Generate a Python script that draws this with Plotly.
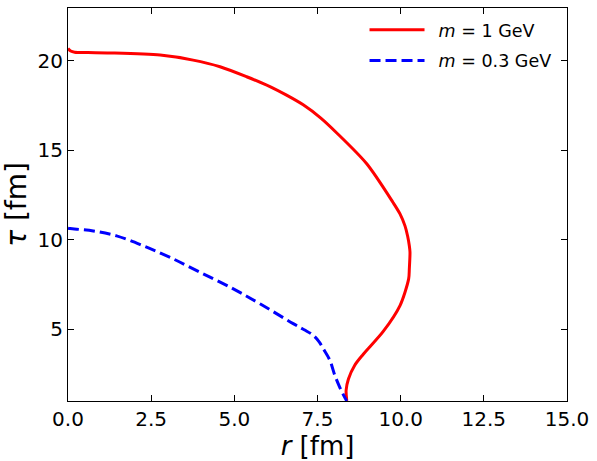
import plotly.graph_objects as go

# m = 1 GeV curve (solid red)
red_r = [0.00, 0.08, 0.20, 0.60, 1.26, 2.77, 3.76, 4.57, 5.37, 6.07, 6.57, 7.07, 7.60, 8.08, 8.98, 9.77, 9.98,
         10.13, 10.21, 10.26, 10.28, 10.26, 10.24, 9.98, 9.47, 8.87, 8.62, 8.43, 8.36, 8.38]
red_tau = [20.69, 20.55, 20.48, 20.46, 20.44, 20.32, 20.04, 19.67, 19.11, 18.56, 18.08, 17.54, 16.80, 15.97, 14.25, 12.09, 11.45,
           10.78, 10.20, 9.67, 9.32, 8.37, 7.82, 6.33, 4.87, 3.60, 3.00, 2.23, 1.60, 1.00]

# m = 0.3 GeV curve (dashed blue)
blue_r = [0.00, 0.06, 0.76, 1.46, 2.26, 3.07, 3.97, 4.97, 5.77, 6.77, 7.10, 7.37, 7.55, 7.67, 7.87, 8.02, 8.18, 8.33, 8.38]
blue_tau = [10.65, 10.63, 10.50, 10.22, 9.67, 9.02, 8.19, 7.26, 6.43, 5.32, 4.98, 4.67, 4.30, 3.93, 3.28, 2.44, 1.72, 1.16, 1.00]

x_ticks = [0, 2.5, 5, 7.5, 10, 12.5, 15]
x_tick_labels = ["0.0", "2.5", "5.0", "7.5", "10.0", "12.5", "15.0"]
y_ticks = [5, 10, 15, 20]
y_tick_labels = ["5", "10", "15", "20"]

font_family = "DejaVu Sans"
gap = "\u00a0\u2009"

fig = go.Figure()
fig.add_trace(go.Scatter(
    x=red_r, y=red_tau, mode="lines", name=gap + "<i>m</i> = 1 GeV", legendgroup="a",
    line=dict(color="#ff0000", width=3, shape="spline", smoothing=0.8),
))
fig.add_trace(go.Scatter(
    x=blue_r, y=blue_tau, mode="lines", name=gap + "<i>m</i> = 0.3 GeV", legendgroup="b",
    line=dict(color="#0000ff", width=3, dash="11px,5px", shape="spline", smoothing=1.0),
))

axis_common = dict(
    showgrid=False, zeroline=False, showline=True, linecolor="black", linewidth=1,
    mirror="ticks", ticks="inside", ticklen=6, tickwidth=1, tickcolor="black",
    tickfont=dict(family=font_family, size=20, color="black"),
)

fig.update_layout(
    width=597, height=461,
    margin=dict(l=68, r=30, t=7, b=58),
    plot_bgcolor="white", paper_bgcolor="white",
    font=dict(family=font_family, color="black"),
    showlegend=True,
    legend=dict(
        x=0.979, y=0.99, xanchor="right", yanchor="top",
        bgcolor="rgba(0,0,0,0)", borderwidth=0,
        font=dict(family=font_family, size=17.5, color="black"),
        itemwidth=55, tracegroupgap=5,
    ),
    xaxis=dict(
        range=[0, 15], tickvals=x_ticks, ticktext=x_tick_labels,
        title=dict(text="<i>r</i> [fm]", font=dict(family=font_family, size=26), standoff=5),
        **axis_common,
    ),
    yaxis=dict(
        range=[1, 22.95], tickvals=y_ticks, ticktext=y_tick_labels,
        title=dict(text="<i>τ</i>\u00a0[fm]", font=dict(family=font_family, size=28), standoff=4),
        **axis_common,
    ),
)

fig.write_html("out.html")
